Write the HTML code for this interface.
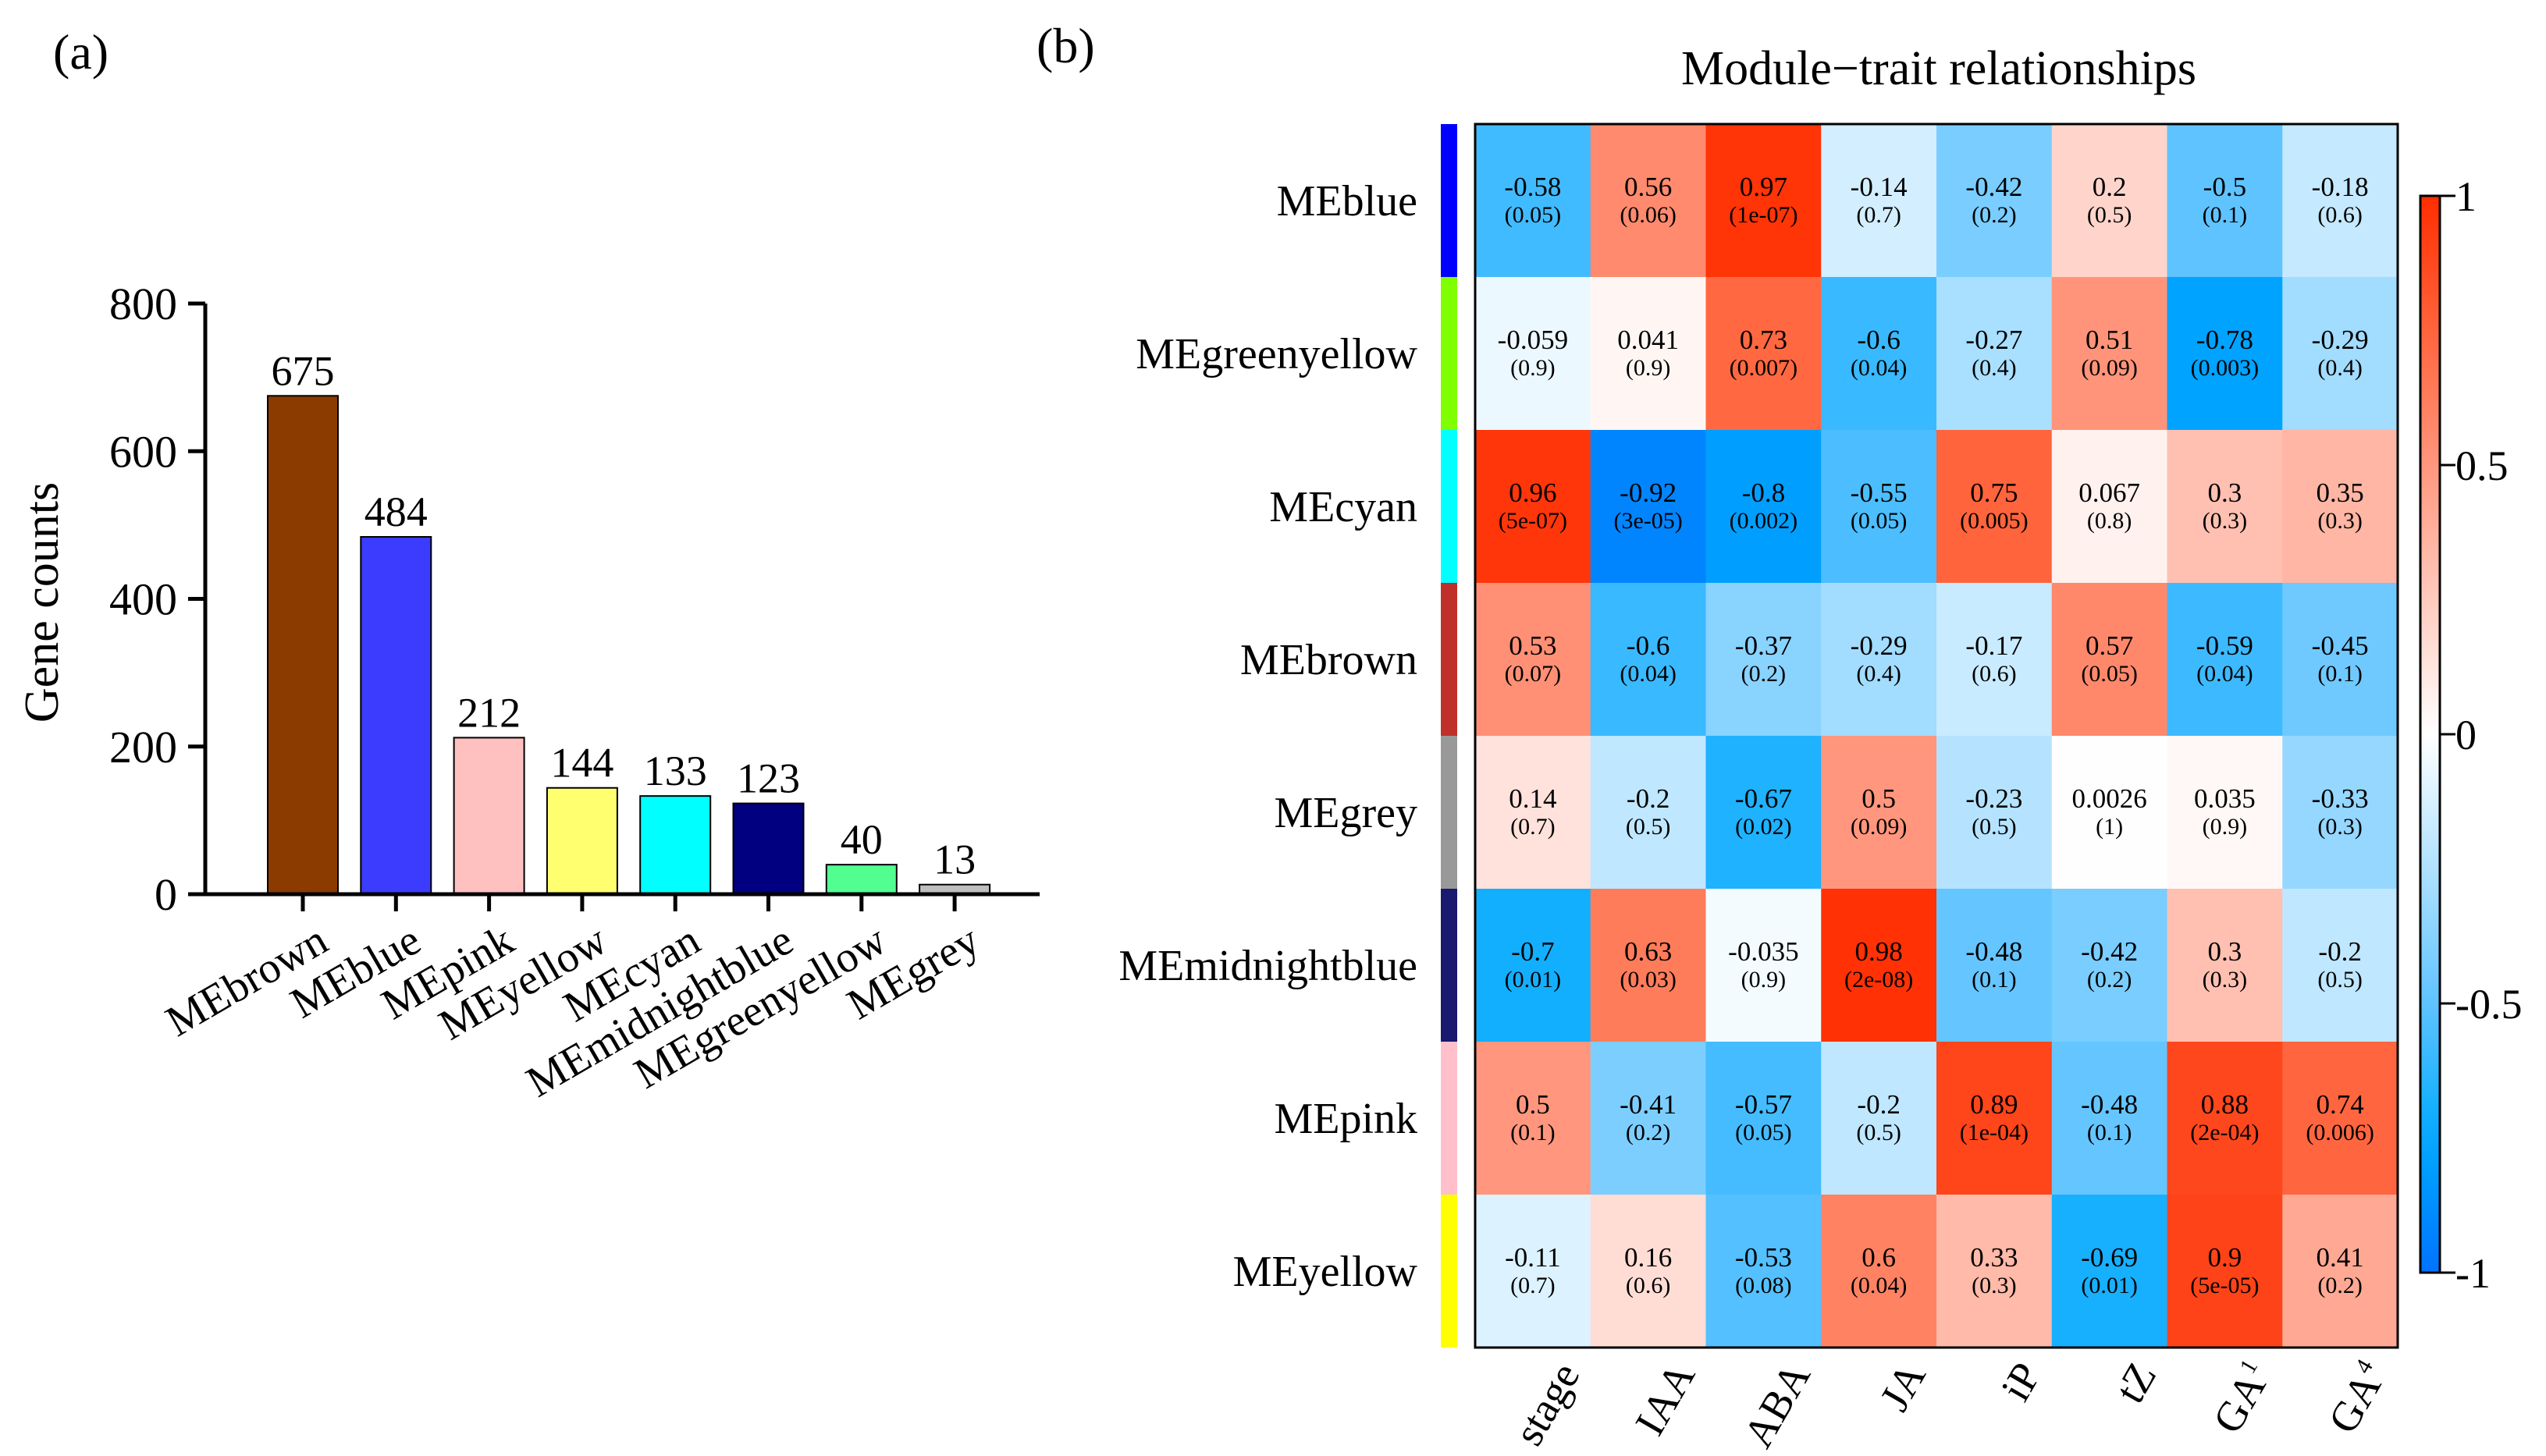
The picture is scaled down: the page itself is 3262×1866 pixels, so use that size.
<!DOCTYPE html>
<html><head><meta charset="utf-8"><style>
html,body{margin:0;padding:0;background:#fff;}
svg{display:block;font-family:"Liberation Serif",serif;}
</style></head><body>
<svg id="fig" width="3262" height="1866" viewBox="0 0 3262 1866" xmlns="http://www.w3.org/2000/svg">
<text x="68" y="88" font-size="64">(a)</text>
<text x="1328" y="80" font-size="64">(b)</text>
<text x="2484" y="108" font-size="62" text-anchor="middle">Module−trait relationships</text>
<text transform="translate(74,772) rotate(-90)" font-size="62" text-anchor="middle">Gene counts</text>
<g id="bars"></g>
<g id="heat"></g>
</svg>
<script>
const barCats=["MEbrown","MEblue","MEpink","MEyellow","MEcyan","MEmidnightblue","MEgreenyellow","MEgrey"];
const barVals=[675,484,212,144,133,123,40,13];
const barColors=["#8b3a00","#3c3cff","#ffc0c0","#ffff70","#00ffff","#000080","#50ff90","#bebebe"];
const yTicks=[0,200,400,600,800];
const modules=["MEblue","MEgreenyellow","MEcyan","MEbrown","MEgrey","MEmidnightblue","MEpink","MEyellow"];
const moduleColors=["#0000ff","#7fff00","#00ffff","#c0302a","#999999","#191970","#ffc0cb","#ffff00"];
const traits=["stage","IAA","ABA","JA","iP","tZ","GA1","GA4"];
const corr=[
[-0.58,0.56,0.97,-0.14,-0.42,0.2,-0.5,-0.18],
[-0.059,0.041,0.73,-0.6,-0.27,0.51,-0.78,-0.29],
[0.96,-0.92,-0.8,-0.55,0.75,0.067,0.3,0.35],
[0.53,-0.6,-0.37,-0.29,-0.17,0.57,-0.59,-0.45],
[0.14,-0.2,-0.67,0.5,-0.23,0.0026,0.035,-0.33],
[-0.7,0.63,-0.035,0.98,-0.48,-0.42,0.3,-0.2],
[0.5,-0.41,-0.57,-0.2,0.89,-0.48,0.88,0.74],
[-0.11,0.16,-0.53,0.6,0.33,-0.69,0.9,0.41]];
const pvals=[
["0.05","0.06","1e-07","0.7","0.2","0.5","0.1","0.6"],
["0.9","0.9","0.007","0.04","0.4","0.09","0.003","0.4"],
["5e-07","3e-05","0.002","0.05","0.005","0.8","0.3","0.3"],
["0.07","0.04","0.2","0.4","0.6","0.05","0.04","0.1"],
["0.7","0.5","0.02","0.09","0.5","1","0.9","0.3"],
["0.01","0.03","0.9","2e-08","0.1","0.2","0.3","0.5"],
["0.1","0.2","0.05","0.5","1e-04","0.1","2e-04","0.006"],
["0.7","0.6","0.08","0.04","0.3","0.01","5e-05","0.2"]];
const cbTicks=[1,0.5,0,-0.5,-1];

const NS="http://www.w3.org/2000/svg";
function mk(tag,attrs,parent){const e=document.createElementNS(NS,tag);for(const k in attrs)e.setAttribute(k,attrs[k]);parent.appendChild(e);return e;}

const bars=document.getElementById('bars');
const X0=263,Y0=1146,Ytop=389,yMax=800,xEnd=1332,barW=90,step=119.3,firstX=343;
const ys=v=>Y0-(v/yMax)*(Y0-Ytop);
barCats.forEach((c,i)=>{
  const x=firstX+i*step;
  const r=mk('rect',{x:x,y:ys(barVals[i]),width:barW,height:Y0-ys(barVals[i]),fill:barColors[i],stroke:"#000","stroke-width":2},bars);
  
  
  const t=mk('text',{x:x+barW/2,y:ys(barVals[i])-14,"font-size":54,"text-anchor":"middle"},bars);t.textContent=barVals[i];
  
  
  const tk=mk('line',{x1:x+barW/2,x2:x+barW/2,y1:Y0,y2:Y0+22,stroke:"#000","stroke-width":5},bars);
  
  
  const lx=x+barW/2+16,ly=Y0+36;
  const l=mk('text',{x:lx,y:ly,"font-size":56,"text-anchor":"end",transform:`rotate(-30 ${lx} ${ly})`,"dominant-baseline":"hanging"},bars);l.textContent=c;
  
  
});
const ax=mk('path',{d:`M${X0} ${Ytop} V${Y0} H${xEnd}`,fill:"none",stroke:"#000","stroke-width":5},bars);


yTicks.forEach(v=>{
  const tl=mk('line',{x1:X0-22,x2:X0,y1:ys(v),y2:ys(v),stroke:"#000","stroke-width":5},bars);
  
  
  const t=mk('text',{x:X0-36,y:ys(v)+20,"font-size":58,"text-anchor":"end"},bars);t.textContent=v;
  
  
});

const heat=document.getElementById('heat');
const HX=1890,HY=159,HW=1182,HH=1568;
const cw=HW/traits.length,ch=HH/modules.length;
function lerp(a,b,t){return a.map((v,i)=>Math.round(v+(b[i]-v)*t));}
const stopsNeg=[[0,[255,255,255]],[0.5,[95,195,255]],[0.75,[0,170,255]],[1,[0,115,255]]];
const stopsPos=[[0,[255,255,255]],[0.5,[255,150,125]],[0.75,[255,100,60]],[1,[255,45,0]]];
function color(v){const s=v<0?stopsNeg:stopsPos;const a=Math.min(1,Math.abs(v));
  for(let i=1;i<s.length;i++){if(a<=s[i][0]){const t=(a-s[i-1][0])/(s[i][0]-s[i-1][0]);const c=lerp(s[i-1][1],s[i][1],t);return `rgb(${c})`;}}
  return `rgb(${s[s.length-1][1]})`;}
modules.forEach((m,r)=>{
  const sb=mk('rect',{x:1846,y:HY+r*ch,width:21,height:ch,fill:moduleColors[r]},heat);
  
  
  const rl=mk('text',{x:1816,y:HY+r*ch+ch/2+19,"font-size":56,"text-anchor":"end"},heat);rl.textContent=m;
  
  
  traits.forEach((tr,c)=>{
    const x=HX+c*cw,y=HY+r*ch;
    const cell=mk('rect',{x:x,y:y,width:cw+0.5,height:ch+0.5,fill:color(corr[r][c])},heat);
    
    
    const t1=mk('text',{x:x+cw/2,y:y+ch/2-6,"font-size":35,"text-anchor":"middle"},heat);t1.textContent=corr[r][c];
    
    
    const t2=mk('text',{x:x+cw/2,y:y+ch/2+28,"font-size":30,"text-anchor":"middle"},heat);t2.textContent='('+pvals[r][c]+')';
    
    
  });
});
const border=mk('rect',{x:HX,y:HY,width:HW,height:HH,fill:"none",stroke:"#000","stroke-width":3},heat);


traits.forEach((tr,c)=>{
  const lx=HX+c*cw+cw/2+28,ly=HY+HH+14;
  const t=mk('text',{x:lx,y:ly,"font-size":54,"text-anchor":"end","dominant-baseline":"hanging",transform:`rotate(-60 ${lx} ${ly})`},heat);
  if(tr.startsWith("GA")){t.textContent="GA";const s=mk('tspan',{"font-size":30,dy:-4},t);s.textContent=tr.slice(2);}
  else t.textContent=tr;
  
  
});
const CBX=3101,CBW=25,CBT=251,CBB=1631;
const defs=mk('defs',{},heat);
const grad=mk('linearGradient',{id:"cbg",x1:0,y1:0,x2:0,y2:1},defs);
for(let i=0;i<=20;i++){const v=1-i/10;mk('stop',{offset:(i/20),"stop-color":color(v)},grad);}
const cb=mk('rect',{x:CBX,y:CBT,width:CBW,height:CBB-CBT,fill:"url(#cbg)",stroke:"#000","stroke-width":3},heat);


cbTicks.forEach(v=>{
  const y=CBT+(1-v)/2*(CBB-CBT);
  const l=mk('line',{x1:CBX+CBW,x2:CBX+CBW+20,y1:y,y2:y,stroke:"#000","stroke-width":3},heat);
  
  
  const t=mk('text',{x:CBX+CBW+20,y:y+19,"font-size":54},heat);t.textContent=v;
  
  
});
</script>
</body></html>
